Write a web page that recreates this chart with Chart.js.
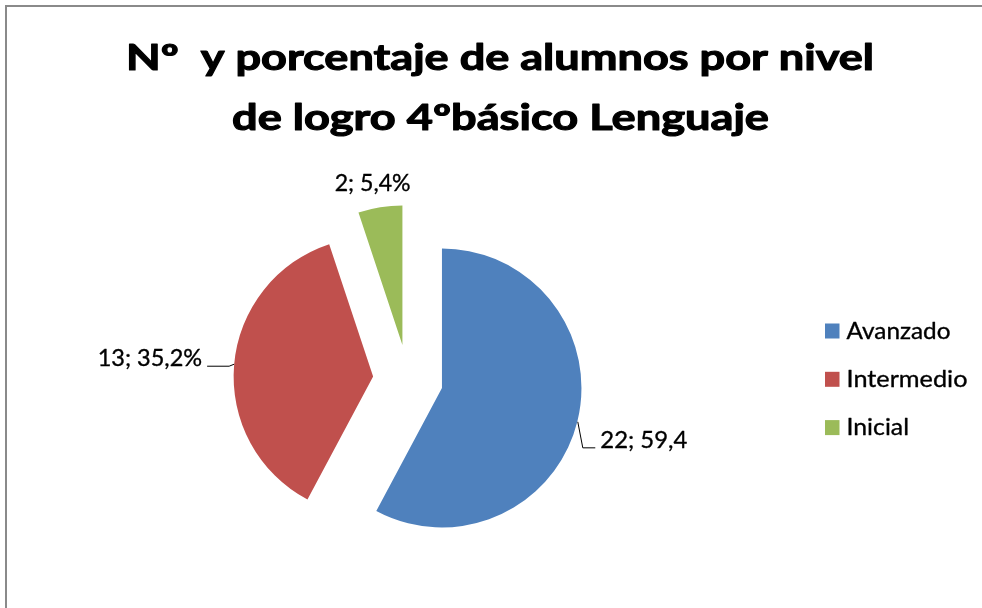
<!DOCTYPE html>
<html>
<head>
<meta charset="utf-8">
<script src="https://cdn.jsdelivr.net/npm/chart.js@4.4.1/dist/chart.umd.min.js"></script>
<style>
  html, body { margin: 0; padding: 0; background: #fff; overflow: hidden; }
  #wrap { position: relative; width: 982px; height: 608px; overflow: hidden; }
  #frame { position: absolute; left: 5px; top: 5px; width: 1000px; height: 700px;
           border: 2px solid #8a8a8a; box-sizing: border-box; }
  canvas { position: absolute; left: 0; top: 0; }
</style>
</head>
<body>
<div id="wrap">
  <div id="frame"></div>
  <canvas id="c" width="982" height="608" aria-label="Nº y porcentaje de alumnos por nivel de logro 4ºbásico Lenguaje"></canvas>
</div>
<script>
// ---- data ----
const categories = ['Avanzado', 'Intermedio', 'Inicial'];
const sliceShares = [57.8, 37.1, 5.1];           // slice sizes as drawn in the picture
const dataLabels = ['22; 59,4', '13; 35,2%', '2; 5,4%'];
const sliceColors = ['#4F81BD', '#C0504D', '#9BBB59'];
const titleLines = ['Nº  y porcentaje de alumnos por nivel', 'de logro 4ºbásico Lenguaje'];

// ---- style ----
const FONT = 'Lato, "Open Sans", sans-serif';
const EXPLODE = 35;

function fitText(ctx, text, x, y, align, font, width, stroke) {
  ctx.save();
  ctx.font = font;
  ctx.textBaseline = 'alphabetic';
  ctx.textAlign = align;
  const w = ctx.measureText(text).width;
  const s = width / w;
  ctx.translate(x, y);
  ctx.scale(s, 1);
  ctx.fillStyle = '#000';
  ctx.fillText(text, 0, 0);
  if (stroke) {
    ctx.strokeStyle = '#000';
    ctx.lineWidth = stroke;
    ctx.lineJoin = 'round';
    ctx.strokeText(text, 0, 0);
  }
  ctx.restore();
}

function explodedCenter(arc) {
  const mid = (arc.startAngle + arc.endAngle) / 2;
  return { mid, x: arc.x + Math.cos(mid) * EXPLODE, y: arc.y + Math.sin(mid) * EXPLODE };
}

const explodePlugin = {
  id: 'explode',
  beforeDatasetDraw(chart, args) {
    const ctx = chart.ctx;
    args.meta.data.forEach(arc => {
      const mid = (arc.startAngle + arc.endAngle) / 2;
      ctx.save();
      ctx.translate(Math.cos(mid) * EXPLODE, Math.sin(mid) * EXPLODE);
      arc.draw(ctx);
      ctx.restore();
    });
    return false;
  }
};

const textPlugin = {
  id: 'texts',
  afterDraw(chart) {
    const ctx = chart.ctx;
    // title
    fitText(ctx, titleLines[0], 500, 70, 'center', 'bold 35.5px ' + FONT, 748, 1.1);
    fitText(ctx, titleLines[1], 500.5, 130, 'center', 'bold 35.5px ' + FONT, 537, 1.1);

    // legend
    const legendWidths = [104, 121, 62.5];
    categories.forEach((name, i) => {
      const y = 331 + i * 48.3;
      ctx.fillStyle = sliceColors[i];
      ctx.fillRect(825, y - 7.5, 14.5, 15);
      fitText(ctx, name, 846.5, y + 7.5, 'left', '23.5px ' + FONT, legendWidths[i], 0.35);
    });

    // data labels
    const meta = chart.getDatasetMeta(0);
    const labelWidths = [87, 104.5, 76];
    ctx.save();
    ctx.strokeStyle = '#000';
    ctx.lineWidth = 1;
    meta.data.forEach((arc, i) => {
      const c = explodedCenter(arc);
      const r = arc.outerRadius;
      const ex = c.x + Math.cos(c.mid) * r;
      const ey = c.y + Math.sin(c.mid) * r;
      const font = '23.5px ' + FONT;
      if (i === 0) {
        ctx.beginPath();
        ctx.moveTo(ex + 0.5, ey);
        ctx.lineTo(ex + 5.5, ey + 26);
        ctx.lineTo(ex + 18, ey + 26);
        ctx.stroke();
        fitText(ctx, dataLabels[i], ex + 23, ey + 26, 'left', font, labelWidths[i], 0.35);
      } else if (i === 1) {
        ctx.beginPath();
        ctx.moveTo(ex, ey - 0.5);
        ctx.lineTo(ex - 5, ey + 1.5);
        ctx.lineTo(ex - 27, ey + 1.5);
        ctx.stroke();
        fitText(ctx, dataLabels[i], ex - 32, ey + 1.5, 'right', font, labelWidths[i], 0.35);
      } else {
        fitText(ctx, dataLabels[i], ex - 7.5, ey - 16, 'center', font, labelWidths[i], 0.35);
      }
    });
    ctx.restore();
  }
};

new Chart(document.getElementById('c'), {
  type: 'pie',
  data: {
    labels: categories,
    datasets: [{
      data: sliceShares,
      backgroundColor: sliceColors,
      borderWidth: 0,
      hoverOffset: 0
    }]
  },
  options: {
    responsive: false,
    animation: false,
    events: [],
    radius: 139.5,
    layout: { padding: { left: 0, right: 166, top: 151, bottom: 0 } },
    plugins: {
      legend: { display: false },
      title: { display: false },
      tooltip: { enabled: false }
    }
  },
  plugins: [explodePlugin, textPlugin]
});
</script>
</body>
</html>
